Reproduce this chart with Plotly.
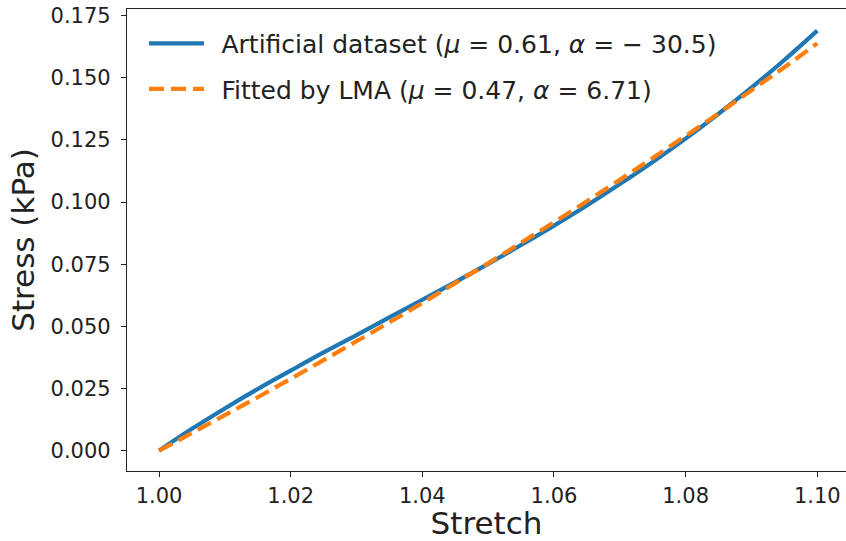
import plotly.graph_objects as go

# Stretch (x) values
stretch = [1.000, 1.005, 1.010, 1.015, 1.020, 1.025, 1.030, 1.035, 1.040, 1.045,
           1.050, 1.055, 1.060, 1.065, 1.070, 1.075, 1.080, 1.085, 1.090, 1.095, 1.100]

# Artificial dataset stress (kPa)
stress_artificial = [0.0000, 0.0088, 0.0170, 0.0248, 0.0322, 0.0395, 0.0465, 0.0536,
                     0.0607, 0.0678, 0.0751, 0.0827, 0.0905, 0.0986, 0.1072, 0.1161,
                     0.1255, 0.1355, 0.1460, 0.1571, 0.1689]

# Fitted by LMA stress (kPa)
stress_fitted = [0.0000, 0.0071, 0.0143, 0.0215, 0.0289, 0.0364, 0.0440, 0.0516,
                 0.0594, 0.0674, 0.0754, 0.0836, 0.0919, 0.1003, 0.1089, 0.1177,
                 0.1266, 0.1356, 0.1449, 0.1542, 0.1638]

x_ticks = [1.00, 1.02, 1.04, 1.06, 1.08, 1.10]
x_tick_labels = ["1.00", "1.02", "1.04", "1.06", "1.08", "1.10"]
y_ticks = [0.000, 0.025, 0.050, 0.075, 0.100, 0.125, 0.150, 0.175]
y_tick_labels = ["0.000", "0.025", "0.050", "0.075", "0.100", "0.125", "0.150", "0.175"]

label_artificial = "\u2002Artificial dataset (<i>μ</i> = 0.61, <i>α</i> = − 30.5)"
label_fitted = "\u2002Fitted by LMA (<i>μ</i> = 0.47, <i>α</i> = 6.71)"

FONT = "DejaVu Sans"

fig = go.Figure()
fig.add_trace(go.Scatter(
    x=stretch, y=stress_artificial, mode="lines", name=label_artificial,
    line=dict(color="#1f77b4", width=4.2, shape="spline"),
    legendgroup="a",
))
fig.add_trace(go.Scatter(
    x=stretch, y=stress_fitted, mode="lines", name=label_fitted,
    line=dict(color="#ff7f0e", width=4.2, dash="15px,7px", shape="spline"),
    legendgroup="b",
))

axis_common = dict(
    showgrid=False, zeroline=False, showline=True, linecolor="#222", linewidth=1.2,
    ticks="outside", ticklen=5, tickwidth=1.2, tickcolor="#222",
    tickfont=dict(family=FONT, size=21, color="#222"),
    automargin=False,
)

fig.update_layout(
    width=846, height=541,
    margin=dict(l=127, r=0, t=9, b=70),
    paper_bgcolor="white", plot_bgcolor="white",
    font=dict(family=FONT, color="#222"),
    xaxis=dict(
        range=[0.995139, 1.104361], tickvals=x_ticks, ticktext=x_tick_labels,
        mirror=True, ticklabelstandoff=1,
        title=dict(text="Stretch", font=dict(family=FONT, size=31, color="#222"), standoff=4),
        **axis_common,
    ),
    yaxis=dict(
        range=[-0.00816, 0.17761], tickvals=y_ticks, ticktext=y_tick_labels,
        ticklabelstandoff=6,
        title=dict(text="Stress (kPa)", font=dict(family=FONT, size=31, color="#222"), standoff=6),
        **axis_common,
    ),
    legend=dict(
        x=0.0236, y=0.975, xanchor="left", yanchor="top",
        bgcolor="rgba(0,0,0,0)", borderwidth=0,
        font=dict(family=FONT, size=25, color="#222"),
        tracegroupgap=10, itemwidth=55,
    ),
)

fig.write_html("out.html", config={"displayModeBar": False},
               post_script="document.body.style.margin='0';")
